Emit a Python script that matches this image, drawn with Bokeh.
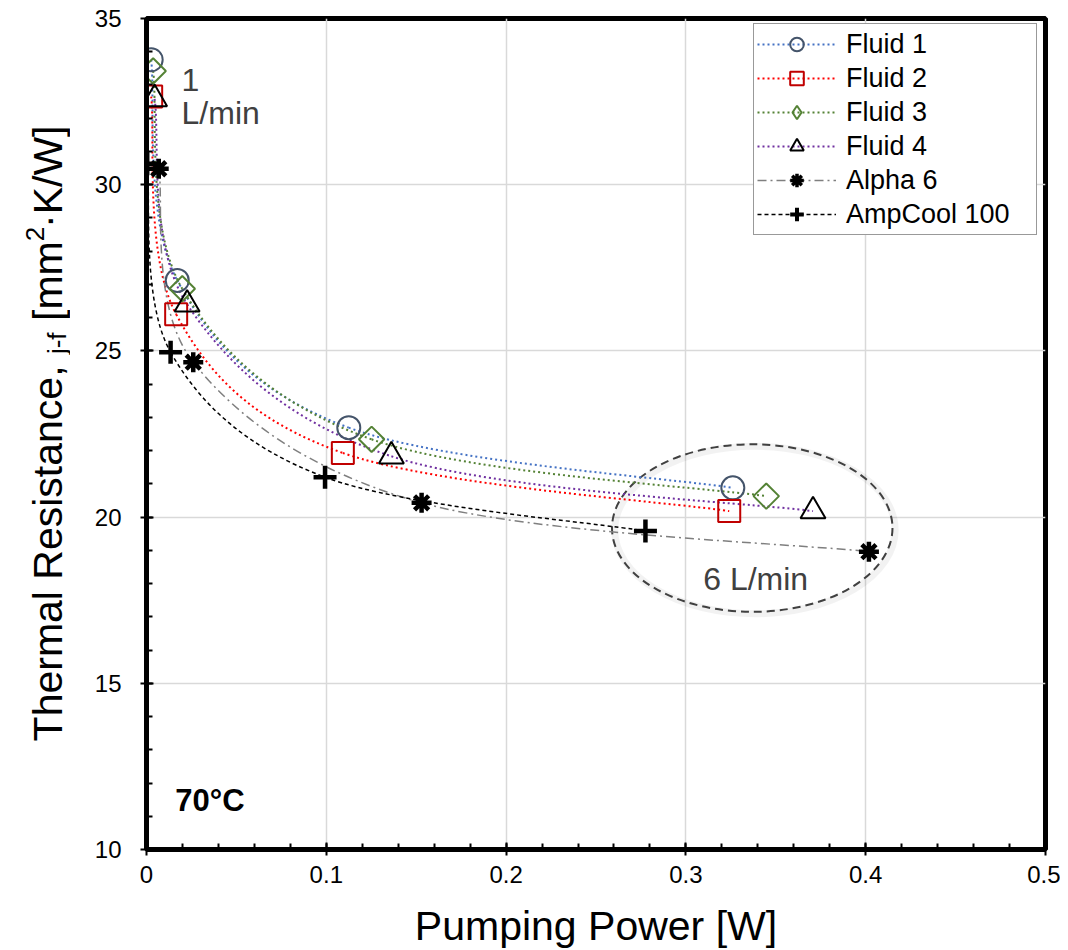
import math
from bokeh.plotting import figure
from bokeh.layouts import row
from bokeh.models import (Label, Legend, LegendItem, SingleIntervalTicker,
                          NumeralTickFormatter, Range1d)
from bokeh.core.properties import value
from bokeh.embed import file_html
from bokeh.resources import INLINE

# ---------------- data ----------------
fluid1_x = [0.0026, 0.0171, 0.1125, 0.3261]
fluid1_y = [33.76, 27.12, 22.69, 20.88]
fluid2_x = [0.0026, 0.0165, 0.1092, 0.3241]
fluid2_y = [32.65, 26.10, 21.93, 20.18]
fluid3_x = [0.0037, 0.0199, 0.1252, 0.3447]
fluid3_y = [33.42, 26.87, 22.34, 20.63]
fluid4_x = [0.0045, 0.0226, 0.1362, 0.3707]
fluid4_y = [32.58, 26.40, 21.83, 20.18]
alpha6_x = [0.0068, 0.0260, 0.1530, 0.4018]
alpha6_y = [30.48, 24.66, 20.43, 18.96]
ampcool_x = [0.0004, 0.0134, 0.0993, 0.2775]
ampcool_y = [30.63, 24.96, 21.20, 19.58]

series_names = ["Fluid 1", "Fluid 2", "Fluid 3", "Fluid 4", "Alpha 6", "AmpCool 100"]
x_title = "Pumping Power [W]"
# y title pieces: (text, role)   role: base / sub / sup / gap
y_title_parts = [("Thermal Resistance,", "base"), (" ", "gap"), ("j-f", "sub"),
                 (" ", "gap"), ("[mm", "base"), ("2", "sup"), ("·K/W]", "base")]
note_low = ["1", "L/min"]
note_high = "6 L/min"
note_temp = "70°C"

FONT = "Liberation Sans"

X0, X1 = 0.0, 0.5
Y0, Y1 = 10.0, 35.0
H = 956
TW = 70                       # width of the strip holding the y title
W = 1060 - TW
BL, BR, BT, BB = 146 - TW, 15, 18, 107
FH = H - BT - BB

p = figure(width=W, height=H, x_range=(X0, X1), y_range=(Y0, Y1),
           output_backend="svg", toolbar_location=None,
           min_border_left=BL, min_border_right=BR,
           min_border_top=BT, min_border_bottom=BB,
           background_fill_color="white", border_fill_color="white")

p.outline_line_color = "black"
p.outline_line_width = 5

p.xaxis.ticker = SingleIntervalTicker(interval=0.1, num_minor_ticks=5)
p.yaxis.ticker = SingleIntervalTicker(interval=5, num_minor_ticks=5)
p.xaxis.formatter = NumeralTickFormatter(format="0.[0]")

for ax in (p.xaxis, p.yaxis):
    ax.axis_line_color = "black"
    ax.axis_line_width = 5
    ax.major_tick_line_color = "black"
    ax.major_tick_line_width = 2
    ax.minor_tick_line_color = "black"
    ax.minor_tick_line_width = 2
    ax.major_tick_in = 7
    ax.major_tick_out = 6
    ax.minor_tick_in = 6
    ax.minor_tick_out = 0
    ax.major_label_text_font = FONT
    ax.major_label_text_font_size = "24px"
    ax.major_label_text_color = "black"
p.xaxis.major_label_standoff = 10
p.yaxis.major_label_standoff = 19

p.xaxis.axis_label = x_title
p.xaxis.axis_label_text_font = FONT
p.xaxis.axis_label_text_font_size = "41px"
p.xaxis.axis_label_text_font_style = "normal"
p.xaxis.axis_label_text_color = "black"
p.xaxis.axis_label_standoff = 17

p.grid.grid_line_color = "#d9d9d9"
p.grid.grid_line_width = 1.5

# ---------------- smoothed lines (Excel-like) ----------------
def smooth_segments(xs, ys):
    n = len(xs)
    out = dict(x0=[], y0=[], x1=[], y1=[], cx0=[], cy0=[], cx1=[], cy1=[])
    for i in range(n - 1):
        a = i - 1 if i > 0 else i
        d = i + 2 if i + 2 < n else i + 1
        out["x0"].append(xs[i]); out["y0"].append(ys[i])
        out["x1"].append(xs[i + 1]); out["y1"].append(ys[i + 1])
        out["cx0"].append(xs[i] + (xs[i + 1] - xs[a]) / 6)
        out["cy0"].append(ys[i] + (ys[i + 1] - ys[a]) / 6)
        out["cx1"].append(xs[i + 1] - (xs[d] - xs[i]) / 6)
        out["cy1"].append(ys[i + 1] - (ys[d] - ys[i]) / 6)
    return out

styles = [
    dict(xs=fluid1_x, ys=fluid1_y, lc="#4472C4", dash="2 3", lw=2,
         marker="circle", lmarker="circle", mc="#44546A", size=23, angle=0, mlw=2, llw=2),
    dict(xs=fluid2_x, ys=fluid2_y, lc="#FF0000", dash="2 3", lw=2,
         marker="square", lmarker="square", mc="#C00000", size=22, angle=0, mlw=2, llw=2),
    dict(xs=fluid3_x, ys=fluid3_y, lc="#548235", dash="2 3", lw=2,
         marker="square", lmarker="diamond", mc="#548235", size=18, angle=math.pi / 4, mlw=2, llw=2),
    dict(xs=fluid4_x, ys=fluid4_y, lc="#7030A0", dash="2 3", lw=2,
         marker="triangle", lmarker="triangle", mc="black", size=25, angle=0, mlw=2, llw=2),
    dict(xs=alpha6_x, ys=alpha6_y, lc="#7F7F7F", dash="9 4 2 4", lw=1.5,
         marker="asterisk", lmarker="asterisk", mc="black", size=20, angle=0, mlw=4.5, llw=3.5),
    dict(xs=ampcool_x, ys=ampcool_y, lc="black", dash="4 3", lw=1.5,
         marker="cross", lmarker="cross", mc="black", size=23, angle=0, mlw=4.5, llw=4),
]

# ellipse marking the 6 L/min points (with a soft shadow)
ell_x, ell_y, ell_w, ell_h = 0.3369, 19.67, 0.156, 5.04
p.ellipse(x=[ell_x + 0.0015], y=[ell_y - 0.06], width=ell_w, height=ell_h,
          fill_color=None, line_color="#000000", line_alpha=0.05, line_width=7)
p.ellipse(x=[ell_x], y=[ell_y], width=ell_w, height=ell_h,
          fill_color=None, line_color="#404040", line_width=2, line_dash="8 5")

NAN = float("nan")
for st in styles:
    seg = smooth_segments(st["xs"], st["ys"])
    p.bezier(source=seg, x0="x0", y0="y0", x1="x1", y1="y1",
             cx0="cx0", cy0="cy0", cx1="cx1", cy1="cy1",
             line_color=st["lc"], line_width=st["lw"], line_dash=st["dash"])

legend_items = []
for name, st in zip(series_names, styles):
    p.scatter(x=st["xs"], y=st["ys"], marker=st["marker"], size=st["size"],
              angle=st["angle"], fill_color=None, line_color=st["mc"],
              line_width=st["mlw"])
    # legend-only renderers (no visible data)
    lline = p.line(x=[NAN, NAN], y=[NAN, NAN], line_color=st["lc"],
                   line_width=st["lw"], line_dash=st["dash"])
    lmark = p.scatter(x=[NAN], y=[NAN], marker=st["lmarker"], size=10,
                      fill_color=None, line_color=st["mc"], line_width=st["llw"])
    legend_items.append(LegendItem(label=name, renderers=[lline, lmark]))

legend = Legend(items=legend_items, location=(607, 614),
                padding=3, spacing=0, glyph_width=79, glyph_height=34,
                label_height=34, label_width=187, label_standoff=10,
                label_text_font=FONT, label_text_font_size="27px",
                label_text_color="black",
                border_line_color="#333333", border_line_width=1.5,
                background_fill_color="white", background_fill_alpha=1.0)
p.add_layout(legend)

# ---------------- annotations ----------------
p.add_layout(Label(x=0.0195, y=32.83, text=note_low[0], text_font=FONT,
                   text_font_size="32px", text_color="#404040"))
p.add_layout(Label(x=0.0195, y=31.63, text=note_low[1], text_font=FONT,
                   text_font_size="32px", text_color="#404040"))
p.add_layout(Label(x=0.3388, y=17.59, text=note_high, text_font=FONT,
                   text_font_size="32px", text_color="#404040", text_align="center"))
p.add_layout(Label(x=0.016, y=10.94, text=note_temp, text_font=FONT,
                   text_font_size="31px", text_font_style="bold", text_color="black"))

# ---------------- y-axis title strip (with sub/superscript) ----------------
ARIAL = {"T": 611, "h": 556, "e": 556, "r": 333, "m": 833, "a": 556, "l": 222,
         " ": 278, "R": 722, "s": 500, "i": 222, "t": 278, "n": 556, "c": 500,
         ",": 278, "j": 222, "-": 333, "f": 278, "[": 278, "2": 556, "·": 278,
         "K": 667, "/": 278, "W": 944, "]": 278}
def tw(s, size):
    return sum(ARIAL.get(ch, 556) for ch in s) / 1000.0 * size

role_size = {"base": 41, "gap": 41, "sub": 26, "sup": 26}
role_base = {"base": 47, "gap": 47, "sub": 56, "sup": 34}   # baseline px from left
total = sum(tw(s, role_size[r]) for s, r in y_title_parts)
frame_top, frame_bottom = BT, BT + FH     # px from top (the row aligns frames)
acc = (frame_top + frame_bottom) / 2 + total / 2   # start, text runs upward

tfig = figure(width=TW, height=H, x_range=Range1d(0, TW),
              y_range=Range1d(frame_bottom, frame_top),   # data y == px from top
              output_backend="svg", toolbar_location=None,
              x_axis_type=None, y_axis_type=None,
              min_border_left=0, min_border_right=0,
              min_border_top=BT, min_border_bottom=BB,
              background_fill_color="white", border_fill_color="white")
tfig.outline_line_color = None
tfig.grid.visible = False
for s, r in y_title_parts:
    wpx = tw(s, role_size[r])
    if r != "gap":
        mid = acc - wpx / 2
        tfig.text(x=[role_base[r]], y=[mid], text=[s], angle=math.pi / 2,
                  text_font=value(FONT), text_font_size=value(f"{role_size[r]}px"),
                  text_color="black", text_align="center", text_baseline="alphabetic")
    acc -= wpx

layout = row(tfig, p, spacing=0)
open("out.html", "w").write(file_html(layout, INLINE))
